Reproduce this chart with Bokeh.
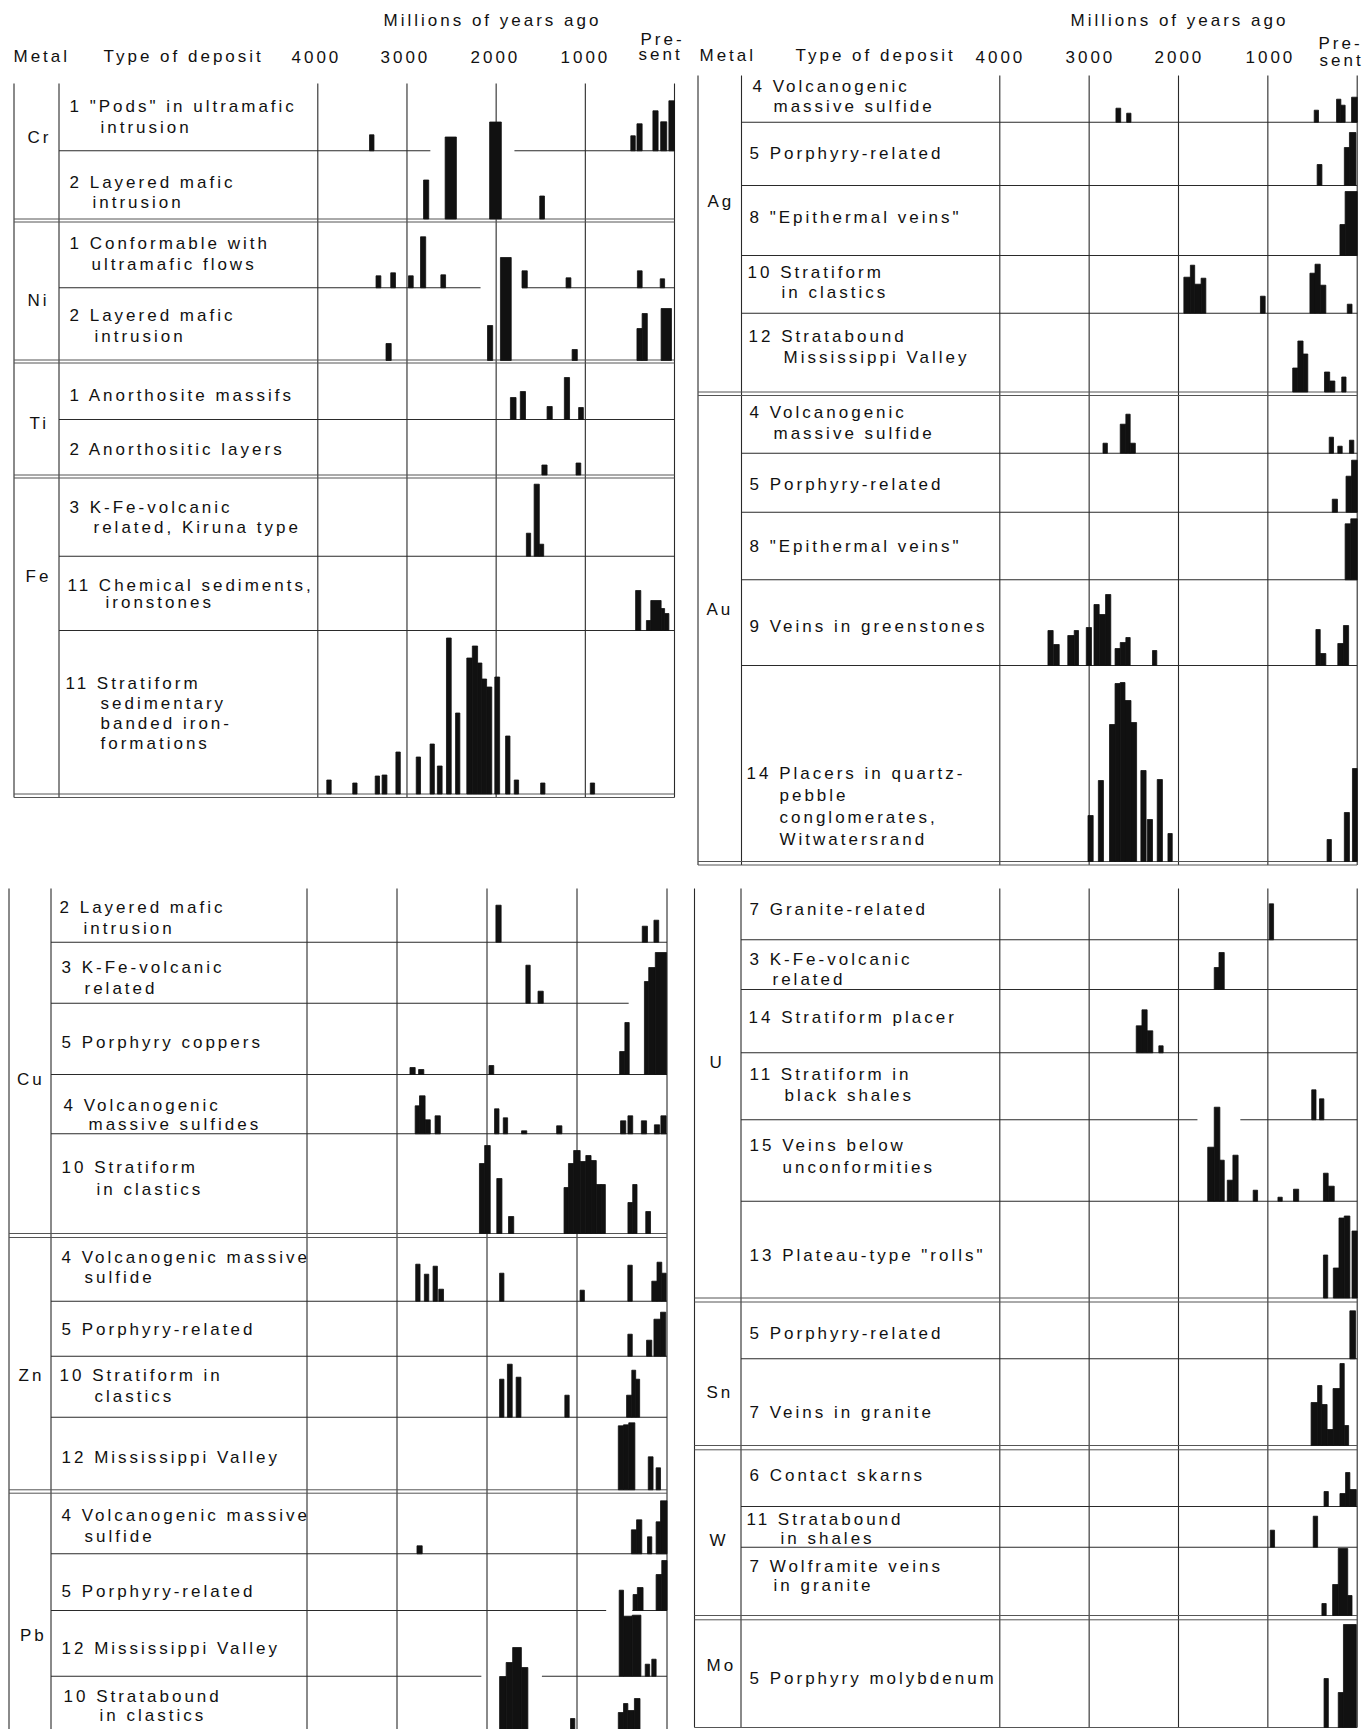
from bokeh.plotting import figure
from bokeh.models import Range1d, ColumnDataSource, InlineStyleSheet
from bokeh.embed import file_html
from bokeh.resources import INLINE
from bokeh.core.properties import value

# ---------------- DATA: bars as (older age Ma, younger age Ma, relative height) ----------------
CR_PODS = [(3420, 3370, 16), (490, 440, 15), (421, 363, 27), (242, 184, 40), (155, 87, 29), (63, 0, 50)]
CR_LAYERED = [(2814, 2756, 39), (2572, 2446, 82), (2073, 1942, 97), (1511, 1458, 23)]
NI_FLOWS = [(3347, 3293, 12), (3182, 3129, 15), (2983, 2930, 12), (2848, 2790, 51), (2620, 2567, 13),
            (1710, 1651, 17), (1216, 1162, 10), (416, 363, 17), (160, 111, 9)]
NI_LAYERED = [(3235, 3177, 17), (2097, 2039, 35), (1952, 1831, 103), (1148, 1090, 11),
              (421, 363, 32), (363, 305, 47), (150, 34, 52)]
TI_MASSIFS = [(1840, 1777, 22), (1729, 1671, 28), (1429, 1371, 13), (1235, 1177, 42), (1075, 1022, 12)]
TI_LAYERS = [(1487, 1429, 10), (1104, 1051, 12)]
FE_KIRUNA = [(1661, 1613, 23), (1574, 1516, 72), (1516, 1467, 12)]
FE_IRONSTONES = [(436, 378, 40), (315, 266, 10), (266, 150, 30), (150, 111, 22), (111, 63, 17)]
FE_BIF = [(3899, 3850, 14), (3608, 3560, 11), (3356, 3308, 18), (3279, 3225, 19), (3124, 3075, 42),
          (2896, 2848, 37), (2741, 2693, 50), (2659, 2606, 28), (2557, 2504, 156), (2455, 2407, 81),
          (2329, 2267, 136), (2267, 2208, 148), (2208, 2160, 131), (2160, 2107, 115), (2107, 2049, 107),
          (2015, 1961, 117), (1894, 1845, 58), (1797, 1748, 14), (1501, 1453, 11), (944, 896, 11)]

AG_VMS = [(2700, 2647, 14), (2580, 2532, 9), (481, 433, 12), (231, 183, 23), (183, 135, 17), (63, 0, 25)]
AG_PORPH = [(448, 395, 21), (144, 87, 38), (87, 14, 53)]
AG_EPI = [(193, 135, 31), (135, 0, 64)]
AG_CLASTIC = [(1940, 1867, 36), (1867, 1819, 48), (1819, 1747, 29), (1747, 1694, 35), (1083, 1030, 17),
              (529, 472, 40), (472, 414, 49), (414, 351, 28), (111, 58, 9)]
AG_MVT = [(722, 664, 24), (664, 606, 51), (606, 553, 38), (366, 308, 20), (308, 250, 11), (173, 125, 15)]

AU_VMS = [(2845, 2796, 10), (2652, 2589, 29), (2589, 2541, 39), (2541, 2483, 10),
          (313, 265, 16), (217, 168, 7), (87, 38, 13)]
AU_PORPH = [(279, 221, 13), (125, 63, 36), (63, 0, 52)]
AU_EPI = [(135, 72, 56), (72, 0, 61)]
AU_GREEN = [(3461, 3403, 35), (3398, 3335, 21), (3239, 3167, 30), (3167, 3119, 35), (3032, 2974, 38),
            (2946, 2888, 61), (2888, 2816, 51), (2816, 2758, 71), (2710, 2652, 17), (2652, 2589, 23),
            (2589, 2541, 28), (2291, 2243, 15), (462, 414, 36), (414, 351, 12), (217, 154, 22), (154, 96, 40)]
AU_PLACER = [(3013, 2955, 46), (2897, 2840, 81), (2772, 2710, 137), (2710, 2652, 178), (2652, 2599, 179),
             (2599, 2532, 161), (2532, 2469, 139), (2421, 2363, 91), (2349, 2291, 42), (2238, 2180, 82),
             (2118, 2070, 28), (337, 289, 22), (144, 87, 49), (53, 0, 93)]

CU_LAYERED = [(1901, 1843, 37), (275, 217, 16), (145, 92, 22)]
CU_KFE = [(1568, 1520, 38), (1433, 1375, 12)]
CU_PORPH = [(2856, 2798, 7), (2760, 2702, 5), (1978, 1925, 9), (526, 468, 23), (468, 420, 52),
            (251, 203, 93), (203, 130, 107), (130, 5, 122)]
CU_VMS = [(2798, 2750, 28), (2750, 2688, 38), (2688, 2630, 14), (2577, 2519, 18), (1916, 1867, 25),
          (1819, 1771, 16), (1616, 1558, 3), (1226, 1168, 8), (516, 458, 13), (434, 381, 18),
          (285, 227, 13), (140, 82, 9), (68, 10, 18)]
CU_CLASTIC = [(2084, 2026, 70), (2026, 1964, 88), (1891, 1834, 55), (1761, 1703, 17), (1144, 1095, 46),
              (1095, 1037, 70), (1037, 965, 83), (965, 902, 72), (902, 844, 78), (844, 786, 73),
              (786, 733, 49), (733, 685, 49), (434, 381, 31), (381, 333, 49), (236, 183, 22)]

ZN_VMS = [(2792, 2744, 37), (2696, 2647, 27), (2599, 2551, 35), (2536, 2483, 12), (1860, 1812, 28),
          (966, 918, 11), (435, 386, 36), (169, 111, 20), (111, 58, 39), (58, 10, 28)]
ZN_PORPH = [(435, 386, 22), (227, 169, 16), (145, 72, 37), (72, 14, 44)]
ZN_CLASTIC = [(1860, 1812, 38), (1773, 1720, 53), (1676, 1623, 40), (1135, 1087, 22),
              (449, 391, 22), (391, 348, 47), (348, 304, 38)]
ZN_MVT = [(541, 483, 64), (483, 425, 65), (425, 357, 67), (208, 155, 33), (121, 72, 22)]

PB_VMS = [(2778, 2720, 8), (396, 338, 24), (338, 280, 34), (217, 169, 17), (121, 72, 32), (72, 0, 53)]
PB_PORPH = [(377, 329, 16), (329, 266, 23), (121, 58, 36), (58, 0, 50)]
PB_MVT = [(531, 483, 86), (483, 386, 60), (386, 290, 61), (242, 193, 12), (169, 121, 17)]
PB_CLASTIC = [(1860, 1787, 55), (1787, 1715, 69), (1715, 1618, 84), (1618, 1546, 64), (1072, 1024, 13),
              (541, 483, 19), (483, 435, 28), (435, 362, 21), (362, 300, 33)]

U_GRANITE = [(984, 936, 36)]
U_KFE = [(1600, 1547, 22), (1547, 1488, 37)]
U_PLACER = [(2473, 2409, 27), (2409, 2351, 43), (2351, 2288, 22), (2220, 2172, 7)]
U_SHALES = [(509, 461, 30), (422, 373, 21)]
U_VEINS = [(1673, 1600, 54), (1600, 1537, 94), (1537, 1488, 41), (1454, 1391, 21), (1391, 1333, 46),
           (1164, 1115, 11), (887, 839, 4), (713, 655, 12), (378, 325, 28), (325, 257, 15)]
U_ROLLS = [(378, 330, 43), (267, 204, 30), (204, 145, 80), (145, 82, 82), (58, 0, 67)]

SN_PORPH = [(82, 19, 48)]
SN_VEINS = [(516, 443, 43), (443, 395, 60), (395, 337, 41), (337, 270, 16), (270, 193, 57),
            (193, 145, 82), (145, 96, 20)]

W_SKARN = [(371, 323, 15), (193, 130, 13), (130, 82, 34), (82, 10, 17)]
W_SHALES = [(973, 925, 17), (492, 443, 31)]
W_VEINS = [(395, 347, 12), (275, 212, 31), (212, 106, 67), (106, 58, 20)]

MO_PORPH = [(371, 323, 49), (212, 154, 35), (154, 10, 103)]

TICK_AGES = [4000, 3000, 2000, 1000, 0]
TICK_LABELS = ["4000", "3000", "2000", "1000"]
METALS = ["Cr", "Ni", "Ti", "Fe", "Ag", "Au", "Cu", "Zn", "Pb", "U", "Sn", "W", "Mo"]

# ---------------- LAYOUT (page pixels; Bokeh page has no body margin) ----------------
X0, Y0, W, H = 0, 0, 1365, 1729
TEXT_DY = -6
PANELS = {  # px of "present" line, px of 4000 line, left border, metal separator, top, bottom
    "tl": dict(x0=674.0, x4=317.3, left=13.5, sep=58.5, top=83, bot=797),
    "tr": dict(x0=1356.7, x4=999.3, left=697.5, sep=741.0, top=75, bot=864.5),
    "bl": dict(x0=666.5, x4=306.5, left=8.5, sep=50.5, top=888, bot=1729),
    "br": dict(x0=1356.7, x4=999.3, left=694.0, sep=740.5, top=888, bot=1727),
}

# (panel, data, baseline y)
ROWS = [
    ("tl", CR_PODS, 150.3), ("tl", CR_LAYERED, 218.5), ("tl", NI_FLOWS, 287.3), ("tl", NI_LAYERED, 360.0),
    ("tl", TI_MASSIFS, 419.0), ("tl", TI_LAYERS, 474.5), ("tl", FE_KIRUNA, 555.7),
    ("tl", FE_IRONSTONES, 630.0), ("tl", FE_BIF, 793.5),
    ("tr", AG_VMS, 121.7), ("tr", AG_PORPH, 185.0), ("tr", AG_EPI, 255.0), ("tr", AG_CLASTIC, 312.7),
    ("tr", AG_MVT, 391.5), ("tr", AU_VMS, 452.7), ("tr", AU_PORPH, 511.7), ("tr", AU_EPI, 579.3),
    ("tr", AU_GREEN, 665.0), ("tr", AU_PLACER, 861.0),
    ("bl", CU_LAYERED, 941.7), ("bl", CU_KFE, 1002.7), ("bl", CU_PORPH, 1074.0), ("bl", CU_VMS, 1133.3),
    ("bl", CU_CLASTIC, 1233.0), ("bl", ZN_VMS, 1300.7), ("bl", ZN_PORPH, 1355.7), ("bl", ZN_CLASTIC, 1416.7),
    ("bl", ZN_MVT, 1489.3), ("bl", PB_VMS, 1553.3), ("bl", PB_PORPH, 1610.0), ("bl", PB_MVT, 1675.7),
    ("bl", PB_CLASTIC, 1731.0),
    ("br", U_GRANITE, 939.3), ("br", U_KFE, 989.0), ("br", U_PLACER, 1052.3), ("br", U_SHALES, 1119.3),
    ("br", U_VEINS, 1200.7), ("br", U_ROLLS, 1297.5), ("br", SN_PORPH, 1358.3), ("br", SN_VEINS, 1445.0),
    ("br", W_SKARN, 1506.0), ("br", W_SHALES, 1546.7), ("br", W_VEINS, 1615.0), ("br", MO_PORPH, 1727.0),
]

# single row lines: (panel, y, gaps in Ma)
SINGLE_LINES = [
    ("tl", 150.3, [(2738, 1795)]), ("tl", 287.3, [(2175, 1711)]), ("tl", 419.0, []),
    ("tl", 555.7, []), ("tl", 630.0, []),
    ("tr", 121.7, []), ("tr", 185.0, []), ("tr", 255.0, []), ("tr", 312.7, []),
    ("tr", 452.7, []), ("tr", 511.7, []), ("tr", 579.3, []), ("tr", 665.0, []),
    ("bl", 941.7, []), ("bl", 1002.7, [(426, -1)]), ("bl", 1074.0, []), ("bl", 1133.3, []),
    ("bl", 1300.7, []), ("bl", 1355.7, []), ("bl", 1416.7, []),
    ("bl", 1553.3, []), ("bl", 1610.0, [(676, 386)]), ("bl", 1675.7, [(2063, 1390)]),
    ("br", 939.3, []), ("br", 989.0, []), ("br", 1052.3, []), ("br", 1119.3, [(1788, 1308)]),
    ("br", 1200.7, []), ("br", 1358.3, []), ("br", 1506.0, []), ("br", 1546.7, []),
]
DOUBLE_LINES = [
    ("tl", 218.5), ("tl", 221.5), ("tl", 359.5), ("tl", 362.5), ("tl", 474.5), ("tl", 477.5),
    ("tl", 793.5), ("tl", 797.0),
    ("tr", 391.5), ("tr", 395.0), ("tr", 861.0), ("tr", 864.5),
    ("bl", 1233.0), ("bl", 1237.0), ("bl", 1489.3), ("bl", 1492.7),
    ("br", 1297.5), ("br", 1301.5), ("br", 1445.0), ("br", 1449.3), ("br", 1615.0), ("br", 1619.3),
    ("br", 1727.0),
]

TEXTS = [
    # headers
    ("Millions of years ago", 383, 26), ("Metal", 13, 62), ("Type of deposit", 103, 62),
    ("4000", 291, 62), ("3000", 380, 62), ("2000", 470, 62), ("1000", 560, 62), ("Pre-", 640, 45), ("sent", 638, 60),
    ("Millions of years ago", 1070, 26), ("Metal", 699, 61), ("Type of deposit", 795, 61),
    ("4000", 975, 62), ("3000", 1065, 62), ("2000", 1154, 62), ("1000", 1245, 62), ("Pre-", 1318, 49), ("sent", 1319, 66),
    # metals
    ("Cr", 27, 143), ("Ni", 27, 306), ("Ti", 29, 429), ("Fe", 25, 582),
    ("Ag", 707, 207), ("Au", 706, 615),
    ("Cu", 16.5, 1085), ("Zn", 18, 1381), ("Pb", 19.5, 1641),
    ("U", 709, 1068), ("Sn", 706, 1398), ("W", 709, 1546), ("Mo", 706, 1671),
    # top-left deposit types
    ("1 \"Pods\" in ultramafic", 69, 112), ("intrusion", 100, 133),
    ("2 Layered mafic", 69, 188), ("intrusion", 92, 208),
    ("1 Conformable with", 69, 249), ("ultramafic flows", 91, 270),
    ("2 Layered mafic", 69, 321), ("intrusion", 94, 342),
    ("1 Anorthosite massifs", 69, 401),
    ("2 Anorthositic layers", 69, 455),
    ("3 K-Fe-volcanic", 69, 513), ("related, Kiruna type", 93, 533),
    ("11 Chemical sediments,", 67, 591), ("ironstones", 105, 608),
    ("11 Stratiform", 65, 689), ("sedimentary", 100, 709), ("banded iron-", 100, 729), ("formations", 100, 749),
    # top-right
    ("4 Volcanogenic", 752, 92), ("massive sulfide", 773, 112),
    ("5 Porphyry-related", 749, 159),
    ("8 \"Epithermal veins\"", 749, 223),
    ("10 Stratiform", 747, 278), ("in clastics", 781, 298),
    ("12 Stratabound", 748, 342), ("Mississippi Valley", 783, 363),
    ("4 Volcanogenic", 749, 418), ("massive sulfide", 773, 439),
    ("5 Porphyry-related", 749, 490),
    ("8 \"Epithermal veins\"", 749, 552),
    ("9 Veins in greenstones", 749, 632),
    ("14 Placers in quartz-", 746, 779), ("pebble", 779, 801), ("conglomerates,", 779, 823), ("Witwatersrand", 779, 845),
    # bottom-left
    ("2 Layered mafic", 59, 913), ("intrusion", 83, 934),
    ("3 K-Fe-volcanic", 61, 973), ("related", 84, 994),
    ("5 Porphyry coppers", 61, 1048),
    ("4 Volcanogenic", 63, 1111), ("massive sulfides", 88, 1130),
    ("10 Stratiform", 61, 1173), ("in clastics", 96, 1195),
    ("4 Volcanogenic massive", 61, 1263), ("sulfide", 84, 1283),
    ("5 Porphyry-related", 61, 1335),
    ("10 Stratiform in", 59, 1381), ("clastics", 94, 1402),
    ("12 Mississippi Valley", 61, 1463),
    ("4 Volcanogenic massive", 61, 1521), ("sulfide", 84, 1542),
    ("5 Porphyry-related", 61, 1597),
    ("12 Mississippi Valley", 61, 1654),
    ("10 Stratabound", 63, 1702), ("in clastics", 99, 1721),
    # bottom-right
    ("7 Granite-related", 749, 915),
    ("3 K-Fe-volcanic", 749, 965), ("related", 772, 985),
    ("14 Stratiform placer", 748, 1023),
    ("11 Stratiform in", 749, 1080), ("black shales", 784, 1101),
    ("15 Veins below", 749, 1151), ("unconformities", 782, 1173),
    ("13 Plateau-type \"rolls\"", 749, 1261),
    ("5 Porphyry-related", 749, 1339),
    ("7 Veins in granite", 749, 1418),
    ("6 Contact skarns", 749, 1481),
    ("11 Stratabound", 746, 1525), ("in shales", 780, 1544),
    ("7 Wolframite veins", 749, 1572), ("in granite", 773, 1591),
    ("5 Porphyry molybdenum", 749, 1684),
]

INK = "#111111"
LINE = "#2a2a2a"

# ---------------- FIGURE ----------------
p = figure(width=W, height=H, output_backend="svg", toolbar_location=None,
           x_range=Range1d(X0, X0 + W), y_range=Range1d(Y0 + H, Y0),
           x_axis_location=None, y_axis_location=None, min_border=0,
           outline_line_color=None, background_fill_color="white", border_fill_color="white")
p.xgrid.visible = False
p.ygrid.visible = False
p.stylesheets.append(InlineStyleSheet(css=":host { letter-spacing: 3px; }"))


def slope(k):
    d = PANELS[k]
    return (d["x0"] - d["x4"]) / 4000.0


def ma_px(k, ma):
    return PANELS[k]["x0"] - slope(k) * ma


extra = {}
for k, d in PANELS.items():
    s = slope(k)
    extra[k] = Range1d((d["x0"] - X0) / s, (d["x0"] - (X0 + W)) / s)
p.extra_x_ranges = extra

# vertical lines
for k, d in PANELS.items():
    p.segment(x0=[d["left"], d["sep"]], x1=[d["left"], d["sep"]], y0=[d["top"]] * 2, y1=[d["bot"]] * 2,
              line_color=LINE, line_width=1.1)
    p.segment(x0=TICK_AGES, x1=TICK_AGES, y0=[d["top"]] * 5, y1=[d["bot"]] * 5,
              x_range_name=k, line_color=LINE, line_width=1.1)

# horizontal single lines with gaps
xs0, xs1, ys = [], [], []
for k, y, gaps in SINGLE_LINES:
    start = PANELS[k]["sep"]
    for old, young in gaps:
        xs0.append(start); xs1.append(ma_px(k, old)); ys.append(y)
        start = ma_px(k, young)
    end = ma_px(k, 0)
    if start < end:
        xs0.append(start); xs1.append(end); ys.append(y)
p.segment(x0=xs0, x1=xs1, y0=ys, y1=ys, line_color=LINE, line_width=1.1)

# double separator lines
p.segment(x0=[PANELS[k]["left"] for k, _ in DOUBLE_LINES], x1=[ma_px(k, 0) for k, _ in DOUBLE_LINES],
          y0=[y for _, y in DOUBLE_LINES], y1=[y for _, y in DOUBLE_LINES], line_color="#555555", line_width=1.0)

# bars
for k, bars, base in ROWS:
    src = ColumnDataSource(dict(
        left=[b[0] for b in bars], right=[b[1] for b in bars],
        top=[base - b[2] for b in bars], bottom=[base] * len(bars)))
    p.quad(left="left", right="right", top="top", bottom="bottom", source=src, x_range_name=k,
           fill_color=INK, line_color=INK, line_width=0.8)

# texts
p.text(x=[t[1] for t in TEXTS], y=[t[2] + TEXT_DY for t in TEXTS], text=[t[0] for t in TEXTS],
       text_font=value("Liberation Sans"), text_font_size="17px", text_color=INK,
       text_align="left", text_baseline="alphabetic")

open("out.html", "w").write(file_html(p, INLINE))
